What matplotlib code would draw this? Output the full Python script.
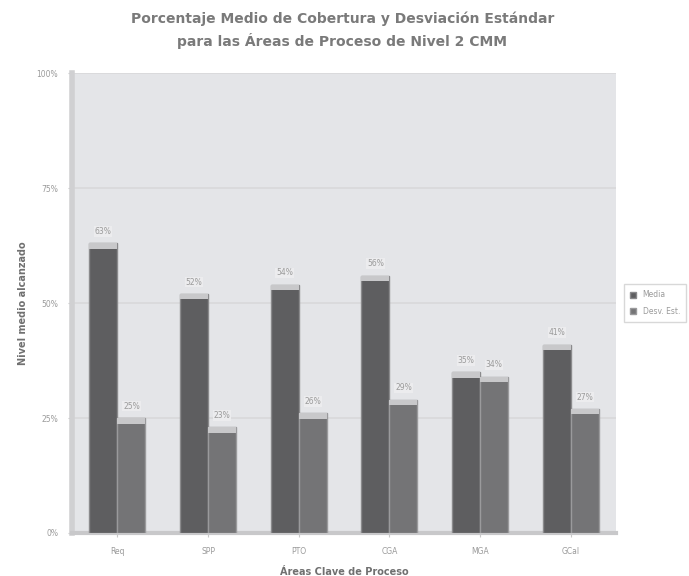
import matplotlib
matplotlib.use('Agg')
import matplotlib.pyplot as plt
import numpy as np

# ----------------------- DATA ----------------------- #
areas = ["Req", "SPP", "PTO", "CGA", "MGA", "GCal"]
media = [63, 52, 54, 56, 35, 41]
desv = [25, 23, 26, 29, 34, 27]
yticks = [0, 25, 50, 75, 100]

# ----------------------- PLOT ----------------------- #
fig = plt.figure(figsize=(6.89, 5.76), dpi=100)
ax = fig.add_axes([0.1045, 0.0747, 0.7896, 0.798])
ax.set_facecolor("#e4e5e8")

x = np.arange(len(areas))
w = 0.31

b1 = ax.bar(x - w / 2, media, w, color="#5e5e60", edgecolor="#8a8a8c",
            linewidth=1.0, label="Media", zorder=3)
b2 = ax.bar(x + w / 2, desv, w, color="#747476", edgecolor="#9a9a9c",
            linewidth=1.0, label="Desv. Est.", zorder=3)

# light strip on top of each bar (3D look)
for bars in (b1, b2):
    for r in bars:
        ax.bar(r.get_x() + r.get_width() / 2, 1.2, r.get_width(),
               bottom=r.get_height() - 1.2, color="#c8c8ca", zorder=4,
               linewidth=0)

for vals, off in ((media, -w / 2), (desv, w / 2)):
    for xi, v in zip(x, vals):
        ax.text(xi + off, v + 1.6, f"{v}%", ha="center", va="bottom",
                fontsize=5.5, color="#9a9a9a", zorder=5,
                bbox=dict(boxstyle="square,pad=0.1", fc="#ececee", ec="none"))

ax.set_xlim(-0.5, len(areas) - 0.5)
ax.set_ylim(0, 100)
ax.set_yticks(yticks)
ax.set_yticklabels([f"{t}%" for t in yticks], fontsize=5.5, color="#9a9a9a")
ax.set_xticks(x)
ax.set_xticklabels(areas, fontsize=5.5, color="#9a9a9a")
ax.grid(axis="y", color="#d8d8da", linewidth=1.2, zorder=0)
ax.tick_params(axis="both", length=3, color="#c8c8c8", pad=7)

for s in ("top", "right"):
    ax.spines[s].set_visible(False)
ax.spines["left"].set_color("#d0d0d2")
ax.spines["left"].set_linewidth(4)
ax.spines["bottom"].set_color("#c8c8ca")
ax.spines["bottom"].set_linewidth(3)

ax.set_xlabel("Áreas Clave de Proceso", fontsize=7, fontweight="bold",
              color="#707070", labelpad=8)
ax.set_ylabel("Nivel medio alcanzado", fontsize=7, fontweight="bold",
              color="#707070", labelpad=6)

fig.suptitle("Porcentaje Medio de Cobertura y Desviación Estándar\n"
             "para las Áreas de Proceso de Nivel 2 CMM",
             x=0.497, y=0.98, fontsize=10, fontweight="bold", color="#7a7a7a",
             linespacing=1.5)

leg = ax.legend(loc="center left", bbox_to_anchor=(1.008, 0.5), fontsize=5.5,
                frameon=True, fancybox=False, edgecolor="#cfcfcf",
                handlelength=0.8, handleheight=0.8, borderpad=0.8,
                labelspacing=1.0)
for t in leg.get_texts():
    t.set_color("#9a9a9a")

fig.savefig("out.png", dpi=100)
